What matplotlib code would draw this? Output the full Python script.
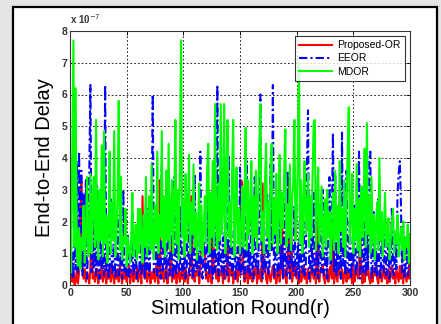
import numpy as np
import matplotlib
matplotlib.use("Agg")
import matplotlib.pyplot as plt
from matplotlib.patches import Rectangle

plt.rcParams['font.family'] = ['Liberation Sans', 'DejaVu Sans']

# delay values in units of 1e-7, one per simulation round (1..300)
proposed_or = [
    0.5, 0.1, 0.4, 0.0, 0.1, 0.5, 0.05, 0.4, 2.2, 3.25,
    0.6, 0.2, 0.5, 0.1, 0.4, 0.3, 0.05, 0.5, 2.8, 0.2,
    0.4, 0.1, 0.3, 0.5, 0.05, 0.4, 0.2, 0.6, 0.1, 0.3,
    0.5, 0.05, 0.4, 0.2, 0.6, 0.1, 0.5, 0.3, 0.05, 0.4,
    0.2, 0.5, 0.1, 0.6, 0.3, 0.05, 0.4, 0.2, 0.5, 0.1,
    0.4, 0.6, 0.05, 0.3, 0.5, 0.1, 0.4, 0.2, 0.6, 0.1,
    0.3, 0.5, 0.05, 2.8, 0.4, 0.2, 0.6, 0.1, 0.3, 0.5,
    0.05, 0.4, 0.2, 0.5, 0.1, 0.6, 0.3, 0.05, 3.3, 0.4,
    0.2, 0.5, 0.1, 0.4, 0.6, 0.05, 0.3, 0.5, 1.3, 0.1,
    0.4, 0.2, 0.6, 0.05, 0.3, 0.5, 0.1, 0.4, 0.2, 0.6,
    0.1, 0.5, 0.3, 0.05, 0.4, 0.6, 2.8, 0.2, 0.5, 0.1,
    0.4, 0.3, 0.6, 0.05, 0.5, 1.1, 1.1, 1.1, 1.1, 0.2,
    0.4, 0.1, 0.5, 0.3, 0.05, 3.3, 0.4, 0.6, 0.2, 0.5,
    0.1, 0.4, 0.3, 0.6, 0.05, 0.5, 0.2, 0.4, 1.2, 0.1,
    0.5, 0.3, 0.6, 0.05, 0.4, 0.2, 0.5, 0.1, 0.6, 0.3,
    3.3, 3.2, 0.4, 0.1, 0.5, 0.3, 0.05, 0.6, 0.2, 0.4,
    0.1, 0.5, 0.3, 0.6, 0.05, 0.4, 0.2, 0.5, 0.1, 3.2,
    0.4, 0.6, 0.2, 0.05, 0.5, 0.3, 0.1, 0.4, 0.6, 0.2,
    0.5, 0.05, 0.3, 0.6, 0.1, 0.4, 2.8, 0.2, 0.5, 0.3,
    0.05, 0.6, 3.3, 0.4, 2.1, 0.1, 0.5, 0.3, 0.6, 0.2,
    0.4, 0.05, 0.5, 0.1, 0.3, 0.6, 0.2, 0.4, 0.05, 0.5,
    0.3, 0.1, 0.6, 0.4, 0.2, 0.5, 0.05, 2.6, 0.3, 0.1,
    0.5, 0.4, 0.6, 0.2, 0.05, 0.3, 0.5, 0.1, 0.4, 0.6,
    0.2, 2.0, 0.05, 0.5, 0.3, 0.1, 0.6, 0.4, 0.2, 0.5,
    0.05, 0.3, 0.6, 0.1, 0.4, 0.2, 0.5, 0.3, 0.05, 0.6,
    0.1, 0.4, 0.5, 0.2, 0.3, 2.2, 0.6, 0.05, 0.4, 0.1,
    0.5, 0.3, 0.6, 0.2, 0.05, 0.4, 0.1, 0.5, 0.3, 0.6,
    0.2, 0.05, 0.4, 0.5, 0.1, 0.3, 0.6, 0.2, 0.4, 0.05,
    0.5, 0.1, 0.3, 0.6, 0.2, 0.4, 0.05, 0.5, 0.3, 0.1,
    0.6, 0.2, 0.4, 0.05, 0.5, 0.3, 0.1, 0.4, 0.2, 1.6,
]

eeor = [
    0.3, 1.0, 0.2, 2.8, 0.5, 3.9, 0.4, 4.2, 1.5, 3.6,
    0.3, 2.9, 0.6, 3.3, 0.2, 1.2, 3.5, 6.3, 0.4, 2.1,
    0.5, 1.4, 0.3, 3.1, 0.6, 0.2, 2.0, 0.5, 1.1, 0.3,
    6.3, 0.4, 1.8, 0.2, 0.6, 2.7, 0.3, 0.5, 1.3, 0.2,
    0.6, 2.2, 0.3, 0.5, 1.0, 0.2, 3.0, 0.4, 0.6, 0.3,
    1.6, 0.2, 0.5, 0.4, 2.3, 0.3, 0.6, 1.1, 0.2, 0.5,
    0.4, 1.4, 0.3, 0.6, 2.0, 0.2, 2.6, 0.5, 2.4, 0.3,
    1.2, 2.1, 6.0, 0.4, 0.6, 2.5, 0.3, 1.5, 0.5, 0.2,
    3.8, 0.4, 0.6, 1.3, 0.2, 2.8, 0.5, 0.3, 1.7, 0.6,
    0.2, 3.4, 0.5, 0.3, 1.9, 0.6, 0.4, 2.5, 0.3, 0.5,
    1.2, 0.2, 0.6, 2.9, 0.4, 0.3, 1.6, 0.5, 0.2, 3.5,
    0.4, 0.6, 1.0, 0.3, 4.2, 0.5, 0.2, 1.4, 0.6, 0.3,
    2.7, 0.5, 0.3, 1.8, 0.6, 0.2, 3.6, 0.4, 0.5, 6.3,
    0.3, 2.2, 0.6, 0.4, 1.5, 0.2, 3.3, 0.5, 0.3, 4.1,
    0.6, 1.9, 0.3, 0.5, 2.8, 0.2, 0.6, 1.2, 0.4, 3.7,
    0.3, 0.5, 2.1, 0.2, 0.6, 3.9, 0.4, 1.3, 0.3, 2.6,
    0.5, 0.2, 3.4, 0.6, 1.0, 0.3, 2.4, 6.0, 0.5, 0.2,
    1.7, 0.4, 0.6, 2.9, 0.3, 0.5, 3.8, 1.1, 6.3, 0.2,
    0.6, 2.3, 0.4, 0.3, 3.1, 0.5, 1.4, 0.2, 2.7, 0.6,
    0.3, 3.6, 0.5, 0.2, 1.8, 0.6, 0.4, 2.5, 0.3, 0.5,
    1.3, 0.2, 3.2, 0.6, 0.4, 2.0, 0.3, 0.5, 3.7, 5.5,
    0.2, 0.6, 1.6, 0.4, 2.9, 0.3, 0.5, 1.1, 0.2, 2.4,
    0.6, 0.4, 3.0, 0.3, 0.5, 1.5, 0.2, 2.6, 3.4, 0.6,
    1.9, 4.8, 0.4, 3.5, 0.3, 1.2, 0.5, 2.8, 0.2, 4.8,
    0.6, 1.7, 0.3, 3.6, 0.5, 0.4, 2.2, 0.2, 1.0, 0.6,
    2.5, 0.3, 0.5, 1.4, 4.2, 0.2, 3.1, 0.6, 0.4, 2.0,
    0.3, 1.8, 0.5, 3.9, 4.2, 0.2, 0.6, 2.3, 0.4, 1.1,
    0.3, 2.7, 0.5, 0.2, 1.6, 0.6, 0.4, 2.1, 0.3, 0.5,
    1.3, 0.2, 0.6, 2.4, 0.4, 0.3, 1.7, 0.5, 2.9, 3.5,
    3.9, 2.6, 0.4, 1.9, 0.2, 0.6, 1.2, 0.3, 0.5, 0.8,
]

mdor = [
    0.4, 4.1, 7.7, 1.2, 6.2, 1.0, 0.6, 1.8, 0.5, 1.5,
    1.1, 2.5, 0.7, 1.6, 3.4, 0.9, 1.3, 3.5, 1.0, 2.6,
    3.4, 1.2, 5.2, 1.5, 0.8, 3.0, 1.4, 4.4, 0.9, 4.85,
    1.3, 2.2, 0.7, 1.8, 4.2, 1.0, 2.6, 1.4, 4.85, 0.9,
    1.6, 2.9, 5.8, 1.1, 3.4, 0.8, 1.5, 1.3, 2.4, 0.6,
    1.5, 1.2, 0.7, 1.4, 2.9, 0.9, 1.3, 1.9, 0.8, 2.4,
    1.0, 2.4, 1.6, 0.7, 2.2, 1.2, 3.4, 0.9, 1.7, 2.8,
    1.1, 3.8, 1.4, 0.8, 2.5, 1.3, 4.2, 1.0, 2.2, 1.5,
    4.85, 1.2, 2.8, 0.9, 3.6, 1.4, 4.45, 1.1, 2.0, 3.3,
    1.0, 2.6, 5.2, 1.3, 3.0, 0.8, 4.0, 7.7, 1.5, 2.7,
    0.9, 3.5, 1.4, 2.2, 4.1, 1.0, 2.6, 1.6, 3.8, 1.2,
    2.3, 0.8, 1.9, 3.2, 1.1, 2.5, 0.9, 1.6, 2.8, 1.3,
    3.6, 4.45, 1.0, 2.9, 1.5, 3.9, 1.2, 5.7, 2.0, 1.1,
    3.2, 1.4, 5.7, 1.6, 2.4, 5.7, 1.0, 3.4, 5.2, 1.5,
    2.6, 1.2, 3.5, 5.2, 0.9, 2.1, 3.7, 1.3, 2.4, 1.0,
    1.9, 3.1, 1.2, 2.7, 4.95, 1.1, 3.3, 1.6, 2.2, 3.9,
    1.0, 2.8, 1.5, 3.6, 1.2, 2.5, 4.4, 5.7, 1.4, 2.3,
    1.0, 3.2, 4.45, 1.5, 2.6, 1.1, 3.8, 4.45, 1.3, 2.7,
    1.6, 3.5, 1.0, 2.4, 4.1, 1.3, 2.9, 1.8, 3.6, 4.9,
    1.2, 2.5, 1.5, 3.8, 1.1, 2.7, 3.2, 5.2, 1.4, 2.2,
    4.0, 7.0, 1.3, 3.3, 1.0, 2.6, 3.9, 1.6, 2.1, 3.5,
    1.2, 2.8, 1.5, 3.4, 5.1, 5.2, 1.1, 2.5, 3.7, 1.3,
    2.2, 3.1, 0.9, 1.8, 2.7, 1.2, 3.0, 1.5, 2.3, 0.8,
    1.6, 2.9, 1.1, 3.6, 1.4, 2.5, 1.0, 3.9, 1.7, 2.4,
    1.2, 3.3, 0.9, 2.6, 4.2, 5.6, 1.3, 2.1, 3.5, 1.0,
    2.4, 1.4, 3.8, 1.1, 2.7, 0.9, 3.1, 1.5, 2.3, 4.3,
    1.2, 5.1, 1.6, 2.8, 1.0, 3.4, 1.3, 2.2, 0.8, 1.9,
    2.6, 1.1, 4.0, 1.4, 2.3, 0.9, 1.8, 2.9, 1.2, 1.6,
    2.1, 0.8, 1.5, 1.9, 2.4, 1.0, 1.7, 1.3, 2.2, 0.9,
    1.4, 1.8, 1.1, 2.0, 0.8, 1.5, 1.2, 1.9, 0.7, 1.6,
]

rounds = np.arange(1, len(mdor) + 1)
x_ticks = [0, 50, 100, 150, 200, 250, 300]
y_ticks = [0, 1, 2, 3, 4, 5, 6, 7, 8]

W, H = 441, 324
fig = plt.figure(figsize=(W / 100, H / 100), dpi=100)
fig.patch.set_facecolor("#e4e4e4")

# white page with black frame (screenshot look), drawn on a background axes
bg = fig.add_axes([0, 0, 1, 1], zorder=-5)
bg.set_axis_off()
bg.set_xlim(0, W)
bg.set_ylim(H, 0)
bg.add_patch(Rectangle((13, 7), 437 - 13, H + 10, facecolor="white",
                       edgecolor="black", linewidth=1.6))

ax = fig.add_axes([70 / W, 1 - 285 / H, 340 / W, 254 / H])

ax.plot(rounds, proposed_or, color="#ff0000", lw=1.5, label="Proposed-OR")
ax.plot(rounds, eeor, color="#0000ff", lw=1.5, dashes=(4, 1.5, 1, 1.5), label="EEOR")
ax.plot(rounds, mdor, color="#00ff00", lw=1.5, label="MDOR")

ax.set_xlim(0, 300)
ax.set_ylim(0, 8)
ax.set_xticks(x_ticks)
ax.set_yticks(y_ticks)
ax.tick_params(direction="in", top=True, right=True, length=3, width=0.6,
               labelsize=7.5, pad=2)
for lab in ax.get_xticklabels() + ax.get_yticklabels():
    lab.set_fontweight("bold")
    lab.set_color("#333333")
ax.grid(True, color="black", linestyle=(0, (2, 2.5)), linewidth=0.6)
for sp in ax.spines.values():
    sp.set_linewidth(0.8)
    sp.set_color("#333333")

ax.text(0.0, 1.02, r"x 10$^{-7}$", transform=ax.transAxes, fontsize=7,
        fontweight="bold", color="#333333", ha="left", va="bottom")

ax.set_xlabel("Simulation Round(r)", fontsize=14.5, labelpad=1)
ax.set_ylabel("End-to-End Delay", fontsize=14.5, labelpad=5)

leg = ax.legend(loc="upper right", fontsize=7.5, frameon=True, fancybox=False,
                handlelength=3.2, borderpad=0.4, labelspacing=0.3,
                borderaxespad=0.5, handletextpad=0.5)
leg.get_frame().set_edgecolor("black")
leg.get_frame().set_linewidth(0.8)

fig.savefig("out.png", dpi=100, facecolor=fig.get_facecolor())
